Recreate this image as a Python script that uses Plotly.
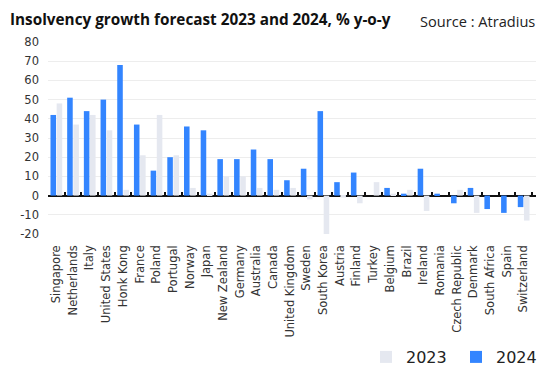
import plotly.graph_objects as go

countries = ["Singapore", "Netherlands", "Italy", "United States", "Honk Kong", "France",
             "Poland", "Portugal", "Norway", "Japan", "New Zealand", "Germany", "Australia",
             "Canada", "United Kingdom", "Sweden", "South Korea", "Austria", "Finland",
             "Turkey", "Belgium", "Brazil", "Ireland", "Romania", "Czech Republic",
             "Denmark", "South Africa", "Spain", "Switzerland"]
values_2024 = [42, 51, 44, 50, 68, 37, 13, 20, 36, 34, 19, 19, 24, 19, 8, 14, 44, 7, 12,
               0, 4, 1, 14, 1, -4, 4, -7, -9, -6]
values_2023 = [48, 37, 42, 34, 3, 21, 42, 21, 4, 1, 10, 10, 4, 3, 4, -2, -20, -1, -4,
               7, 1, 3, -8, 0, 3, -9, 0, 0, -13]
y_ticks = [-20, -10, 0, 10, 20, 30, 40, 50, 60, 70, 80]
y_tick_labels = ["-20", "-10", "0", "10", "20", "30", "40", "50", "60", "70", "80"]

BLUE = "#3385FF"
LIGHT = "#E5E8F0"
FONT = "Open Sans"
AXFONT = "DejaVu Sans"

W, H = 543, 366
T, B = 42, 132

fig = go.Figure()
fig.add_trace(go.Bar(x=countries, y=values_2024, name="2024", marker_color=BLUE,
                     marker_line_width=0))
fig.add_trace(go.Bar(x=countries, y=values_2023, name="2023", marker_color=LIGHT,
                     marker_line_width=0))
# invisible helper trace so the tick axis at y=0 gets its categories
fig.add_trace(go.Scatter(x=countries, y=[0] * len(countries), xaxis="x2", mode="markers",
                         marker=dict(opacity=0), showlegend=False, hoverinfo="skip"))

n = len(countries)
fig.update_layout(
    width=W, height=H,
    margin=dict(l=48, r=7, t=T, b=B, autoexpand=False),
    paper_bgcolor="white", plot_bgcolor="white",
    barmode="group", bargap=0.26, bargroupgap=0.1,
    font=dict(family=FONT, color="#333333"),
    title=dict(text="<b>Insolvency growth forecast 2023 and 2024, % y-o-y</b>",
               xref="container", x=10 / W, xanchor="left",
               yref="container", y=1 - 20 / H, yanchor="middle",
               font=dict(family=FONT, size=15.3, color="#111111")),
    xaxis=dict(type="category", categoryorder="array", categoryarray=countries,
               range=[-0.5, n - 0.26], tickangle=-90, showgrid=False, ticks="",
               showline=False, zeroline=False, ticklabelstandoff=8, automargin=False,
               tickfont=dict(family=AXFONT, size=11.5, color="#333333")),
    xaxis2=dict(type="category", categoryorder="array", categoryarray=countries,
                matches="x", overlaying="x", anchor="free", position=0.2,
                showticklabels=False, ticks="inside", tickson="boundaries",
                ticklen=4, tickwidth=1.5, tickcolor="#111111", automargin=False,
                showgrid=False, showline=False, zeroline=False),
    yaxis=dict(range=[-20, 80], tickvals=y_ticks, ticktext=y_tick_labels,
               showgrid=True, automargin=False,
               gridcolor="#EDEDED", gridwidth=1, zeroline=True,
               zerolinecolor="#111111", zerolinewidth=1.5, ticks="",
               ticklabelstandoff=8,
               tickfont=dict(family=AXFONT, size=11.5, color="#333333")),
    legend=dict(orientation="h", traceorder="reversed",
                xref="container", x=366 / W, xanchor="left",
                yref="container", y=(H - 357) / H, yanchor="middle",
                font=dict(family=AXFONT, size=16, color="#222222"),
                itemwidth=30, entrywidth=45),
    annotations=[dict(text="Source : Atradius", xref="paper", yref="paper",
                      x=1.003, xanchor="right", y=(H - 21 - B) / (H - T - B),
                      yanchor="middle", showarrow=False,
                      font=dict(family=FONT, size=14.6, color="#222222"))],
)

fig.write_html("out.html")
